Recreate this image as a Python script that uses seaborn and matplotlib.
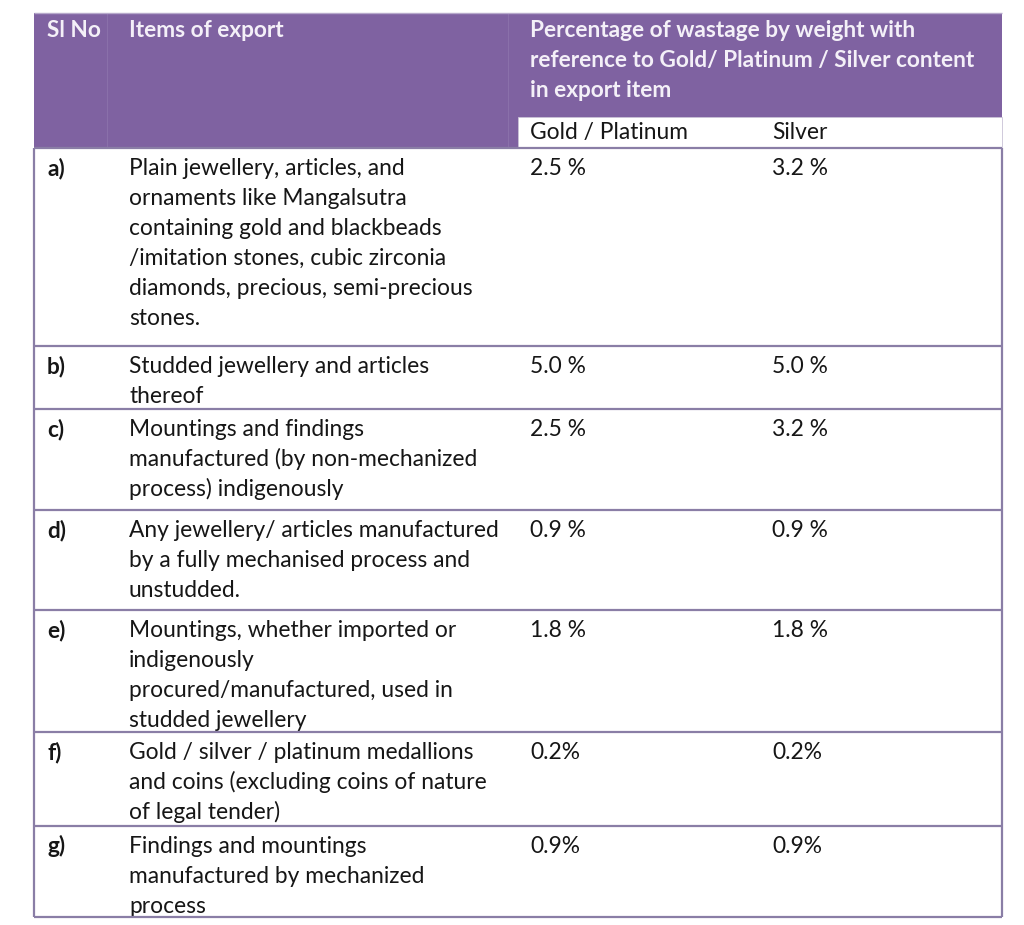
import matplotlib
matplotlib.use("Agg")
import matplotlib.pyplot as plt
import seaborn as sns
from matplotlib.patches import Rectangle
from matplotlib import font_manager

# ---------------- data ----------------
sl_no = ["a)", "b)", "c)", "d)", "e)", "f)", "g)"]
items = [
    "Plain jewellery, articles, and\nornaments like Mangalsutra\ncontaining gold and blackbeads\n/imitation stones, cubic zirconia\ndiamonds, precious, semi-precious\nstones.",
    "Studded jewellery and articles\nthereof",
    "Mountings and findings\nmanufactured (by non-mechanized\nprocess) indigenously",
    "Any jewellery/ articles manufactured\nby a fully mechanised process and\nunstudded.",
    "Mountings, whether imported or\nindigenously\nprocured/manufactured, used in\nstudded jewellery",
    "Gold / silver / platinum medallions\nand coins (excluding coins of nature\nof legal tender)",
    "Findings and mountings\nmanufactured by mechanized\nprocess",
]
gold_platinum = ["2.5 %", "5.0 %", "2.5 %", "0.9 %", "1.8 %", "0.2%", "0.9%"]
silver = ["3.2 %", "5.0 %", "3.2 %", "0.9 %", "1.8 %", "0.2%", "0.9%"]
header_cols = ["Sl No", "Items of export",
               "Percentage of wastage by weight with\nreference to Gold/ Platinum / Silver content\nin export item"]
sub_header = ["Gold / Platinum", "Silver"]

# ---------------- layout (pixels) ----------------
W, H = 1024, 925
X0, X1 = 34, 1002
Y_TOP = 13
HEADER_BOTTOM = 148
SUB_TOP = 117
ROW_EDGES = [148, 346, 409, 510, 610, 732, 826, 917]
COL_X = [47, 129, 530, 772]
LINE_H = 30
FIRST_BASE = 27

PURPLE = "#7F62A1"
BORDER = "#8A7EA6"
HEAD_TXT = "#F4F0F8"
BODY_TXT = "#161616"

sns.set_theme(style="white")
names = {f.name for f in font_manager.fontManager.ttflist}
FONT = "Lato" if "Lato" in names else "Open Sans"
plt.rcParams["font.family"] = [FONT, "DejaVu Sans"]

fig = plt.figure(figsize=(W / 100, H / 100), dpi=100)
ax = fig.add_axes([0, 0, 1, 1])
ax.set_xlim(0, W)
ax.set_ylim(H, 0)
ax.axis("off")

renderer = fig.canvas.get_renderer()


def fit_size(sample, target_px, weight):
    t = ax.text(0, 0, sample, fontsize=10, fontweight=weight)
    w = t.get_window_extent(renderer=renderer).width
    t.remove()
    return 10 * target_px / w


FS_BODY = fit_size("Any jewellery/ articles manufactured", 368, "normal")
FS_BOLD = fit_size("reference to Gold/ Platinum / Silver content", 447, "bold")

# header background
ax.add_patch(Rectangle((X0, Y_TOP), X1 - X0, HEADER_BOTTOM - Y_TOP,
                       facecolor=PURPLE, edgecolor="none", zorder=1))
# faint header column separators
ax.vlines([107, 508], Y_TOP, HEADER_BOTTOM, colors="#8A70AA", lw=0.8, zorder=2)
# white sub-header box
ax.add_patch(Rectangle((518, SUB_TOP), X1 - 518, HEADER_BOTTOM - SUB_TOP,
                       facecolor="white", edgecolor="#C9C2D6", lw=0.6, zorder=3))

# header texts
for x, label in zip(COL_X[:3], header_cols):
    for i, line in enumerate(label.split("\n")):
        ax.text(x, 37 + LINE_H * i, line, fontsize=FS_BOLD, fontweight="bold",
                color=HEAD_TXT, va="baseline", ha="left", zorder=4)
for x, label in zip(COL_X[2:], sub_header):
    ax.text(x, 139, label, fontsize=FS_BODY, color=BODY_TXT,
            va="baseline", ha="left", zorder=4)

# body rows
for r in range(len(sl_no)):
    top = ROW_EDGES[r]
    base = top + FIRST_BASE
    ax.text(COL_X[0], base, sl_no[r], fontsize=FS_BOLD, fontweight="bold",
            color=BODY_TXT, va="baseline", ha="left", zorder=4)
    for i, line in enumerate(items[r].split("\n")):
        ax.text(COL_X[1], base + LINE_H * i, line, fontsize=FS_BODY,
                color=BODY_TXT, va="baseline", ha="left", zorder=4)
    ax.text(COL_X[2], base, gold_platinum[r], fontsize=FS_BODY,
            color=BODY_TXT, va="baseline", ha="left", zorder=4)
    ax.text(COL_X[3], base, silver[r], fontsize=FS_BODY,
            color=BODY_TXT, va="baseline", ha="left", zorder=4)

# row separators and outer border
ax.hlines(ROW_EDGES, X0, X1, colors=BORDER, lw=1.6, zorder=5)
ax.vlines([X0, X1], HEADER_BOTTOM, ROW_EDGES[-1], colors=BORDER, lw=1.6, zorder=5)
ax.hlines([Y_TOP], X0, X1, colors="#B7A9CB", lw=1.0, zorder=5)

fig.savefig("out.png", dpi=100, facecolor="white")
